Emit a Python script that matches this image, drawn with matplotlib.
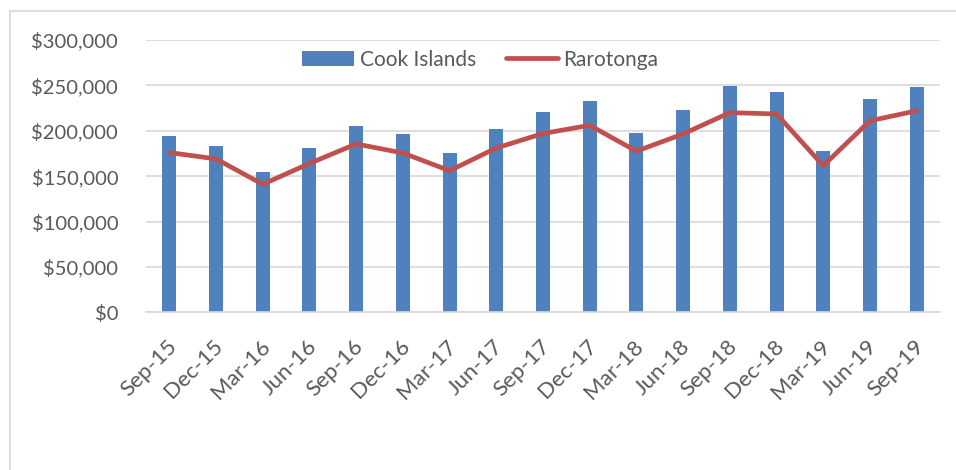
import matplotlib.pyplot as plt
import matplotlib.transforms as mtransforms
from matplotlib.ticker import FuncFormatter, MultipleLocator
from matplotlib.lines import Line2D

plt.rcParams['font.family'] = ['Lato', 'DejaVu Sans']

quarters = ['Sep-15', 'Dec-15', 'Mar-16', 'Jun-16', 'Sep-16', 'Dec-16', 'Mar-17',
            'Jun-17', 'Sep-17', 'Dec-17', 'Mar-18', 'Jun-18', 'Sep-18', 'Dec-18',
            'Mar-19', 'Jun-19', 'Sep-19']
cook_islands = [194500, 183000, 155000, 180500, 205500, 196000, 175000, 202000,
                220500, 232500, 197500, 223000, 249000, 243000, 178000, 234500, 248000]
rarotonga = [176000, 169000, 141000, 164000, 185500, 175500, 156000, 181000,
             197000, 206000, 177500, 196500, 220000, 218500, 161500, 211000, 222000]

grey_text = '#595959'
fig = plt.figure(figsize=(9.56, 4.70), dpi=100)
ax = fig.add_axes([146 / 956, 1 - 312.3 / 470, 794 / 956, 272.3 / 470])

x = range(len(quarters))
bars = ax.bar(x, cook_islands, width=0.3, color='#4F81BD', zorder=2, label='Cook Islands')
line, = ax.plot(x, rarotonga, color='#C0504D', lw=3.4, solid_capstyle='round',
                solid_joinstyle='round', zorder=3, label='Rarotonga')

ax.set_xlim(-0.5, len(quarters) - 0.5)
ax.set_ylim(0, 300000)
ax.yaxis.set_major_locator(MultipleLocator(50000))
ax.yaxis.set_major_formatter(FuncFormatter(lambda v, p: '${:,.0f}'.format(v)))
ax.grid(axis='y', color='#d9d9d9', lw=1.2, zorder=0)
ax.set_xticks(list(x))
ax.set_xticklabels(quarters, rotation=45, ha='right', rotation_mode='anchor')
ax.tick_params(axis='both', length=0, labelsize=14.5, colors=grey_text)
ax.tick_params(axis='y', pad=20)
ax.tick_params(axis='x', pad=17, labelsize=16)
shift = mtransforms.ScaledTranslation(-3 / 100, 0, fig.dpi_scale_trans)
for lbl in ax.get_xticklabels():
    lbl.set_transform(lbl.get_transform() + shift)
for s in ['top', 'right', 'left']:
    ax.spines[s].set_visible(False)
ax.spines['bottom'].set_color('#d9d9d9')
ax.spines['bottom'].set_linewidth(1.2)

leg = ax.legend(handles=[bars, line], loc='center', bbox_to_anchor=(0.421, 0.928),
                ncol=2, frameon=False, fontsize=15, handlelength=2.5,
                handletextpad=0.25, columnspacing=1.45, borderpad=0)
for t in leg.get_texts():
    t.set_color(grey_text)

# chart border (Excel style, top and left visible)
fig.add_artist(Line2D([9.5 / 956, 1], [1 - 10.5 / 470] * 2, color='#d9d9d9', lw=1.2))
fig.add_artist(Line2D([9.5 / 956] * 2, [0, 1 - 10.5 / 470], color='#d9d9d9', lw=1.2))

fig.savefig('out.png', dpi=100)
